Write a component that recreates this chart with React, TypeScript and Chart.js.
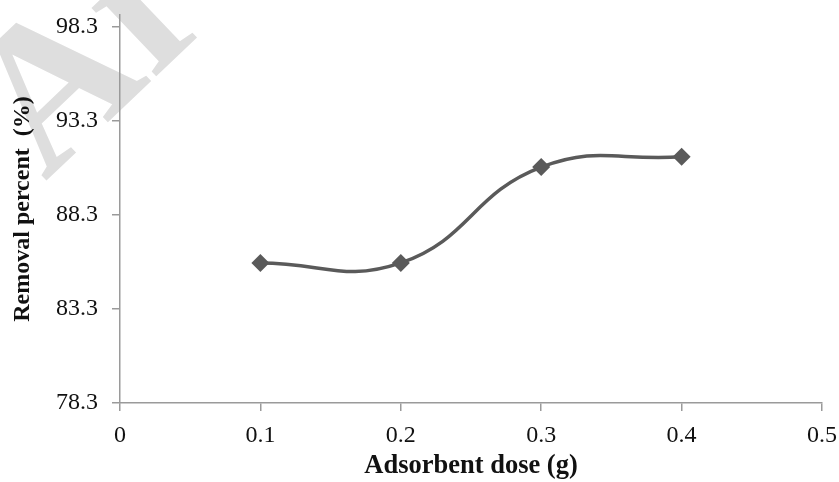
import React, { useEffect, useRef } from "react";
import { Chart, registerables } from "chart.js";

Chart.register(...registerables);

const doses = [0.1, 0.2, 0.3, 0.4];
const removal = [85.75, 85.75, 90.85, 91.4];
const xTicks = [0, 0.1, 0.2, 0.3, 0.4, 0.5];
const yTicks = [78.3, 83.3, 88.3, 93.3, 98.3];
const xTitle = "Adsorbent dose (g)";
const yTitle = "Removal percent  (%)";
const watermark = "Archive of SID";

const watermarkPlugin = {
  id: "watermark",
  beforeDraw(chart: any) {
    const ctx = chart.ctx;
    ctx.save();
    ctx.translate(45, 182);
    ctx.rotate(-0.76);
    ctx.font = "bold 205px 'Liberation Serif'";
    ctx.fillStyle = "#dedede";
    ctx.textBaseline = "alphabetic";
    ctx.fillText(watermark, 0, 0);
    ctx.restore();
  },
};

export default function App() {
  const ref = useRef<HTMLCanvasElement>(null);
  useEffect(() => {
    document.body.style.margin = "0";
    const axisColor = "#9a9a9a";
    const chart = new Chart(ref.current!, {
      type: "line",
      data: {
        datasets: [
          {
            data: doses.map((d, i) => ({ x: d, y: removal[i] })),
            borderColor: "#5a5a5a",
            backgroundColor: "#5a5a5a",
            borderWidth: 3.5,
            tension: 0.45,
            pointStyle: "rectRot",
            pointRadius: 9,
            pointBorderWidth: 0,
          },
        ],
      },
      options: {
        animation: false,
        responsive: false,
        maintainAspectRatio: false,
        layout: { padding: { top: 15, right: 17, left: 0, bottom: 0 } },
        plugins: { legend: { display: false }, tooltip: { enabled: false } },
        scales: {
          x: {
            type: "linear",
            min: 0,
            max: 0.5,
            afterBuildTicks: (s: any) => {
              s.ticks = xTicks.map((v) => ({ value: v }));
            },
            afterFit: (s: any) => {
              s.height = 79;
              s.paddingLeft = 0;
              s.paddingRight = 0;
            },
            ticks: {
              callback: (v: any) => String(Number(v)),
              color: "#111",
              font: { family: "'Liberation Serif'", size: 24 },
              padding: 10,
              maxRotation: 0,
            },
            grid: { drawOnChartArea: false, drawTicks: true, tickLength: 8, color: axisColor, lineWidth: 1.5 },
            border: { color: axisColor, width: 1.5 },
            title: {
              display: true,
              text: xTitle,
              color: "#111",
              font: { family: "'Liberation Serif'", size: 26.5, weight: "bold" },
              padding: { top: 0, bottom: 0 },
            },
          },
          y: {
            type: "linear",
            min: 78.3,
            max: 98.94,
            afterBuildTicks: (s: any) => {
              s.ticks = yTicks.map((v) => ({ value: v }));
            },
            afterFit: (s: any) => {
              s.width = 120;
              s.paddingTop = 0;
              s.paddingBottom = 0;
            },
            ticks: {
              callback: (v: any) => Number(v).toFixed(1),
              color: "#111",
              font: { family: "'Liberation Serif'", size: 24 },
              padding: 14,
            },
            grid: { drawOnChartArea: false, drawTicks: true, tickLength: 8, color: axisColor, lineWidth: 1.5 },
            border: { color: axisColor, width: 1.5 },
            title: {
              display: true,
              text: yTitle,
              color: "#111",
              font: { family: "'Liberation Serif'", size: 24, weight: "bold" },
              padding: { top: 8, bottom: 0 },
            },
          },
        },
      },
      plugins: [watermarkPlugin],
    });
    return () => chart.destroy();
  }, []);
  return (
    <div style={{ position: "fixed", left: 0, top: 0, width: 839, height: 482, background: "#fff" }}>
      <canvas ref={ref} width={839} height={482} style={{ width: 839, height: 482 }} />
    </div>
  );
}
